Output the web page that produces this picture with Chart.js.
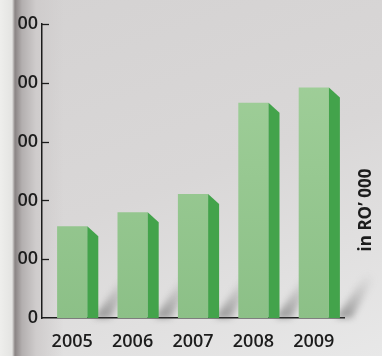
<!DOCTYPE html>
<html>
<head>
<meta charset="utf-8">
<script src="https://cdn.jsdelivr.net/npm/chart.js@4"></script>
<style>
    html, body { margin: 0; padding: 0; }
    body {
        width: 382px;
        height: 356px;
        overflow: hidden;
        background:
            linear-gradient(90deg, #eeeeec 0px, #e4e4e2 12px, #8a8484 15px, #b3afaf 22px, #cfcccc 36px, rgba(216,214,214,0) 64px),
            linear-gradient(160deg, #d4d2d2 0%, #d9d7d7 50%, #e8e8e8 100%);
    }
    #wrap { position: relative; width: 382px; height: 356px; }
</style>
</head>
<body>
<div id="wrap"><canvas id="salesChart" width="382" height="356"></canvas></div>
<script>
// Data
const years = ['2005', '2006', '2007', '2008', '2009'];
const values = [156, 180, 211, 366, 392];
const yTicks = [0, 100, 200, 300, 400, 500];
const unitLabel = 'in RO\u2019 000';

const INK = '#1c1c1c';
const FRONT_TOP = '#a3d19c';
const FRONT_BOTTOM = '#8cc087';
const SIDE = '#43a34b';
const DEPTH_X = 11;
const DEPTH_Y = 10;
const FONT = '"Open Sans", sans-serif';

// Soft floor shadows behind bars + side faces
const barsPlugin = {
    id: 'bars3d',
    beforeDatasetsDraw(chart) {
        const ctx = chart.ctx;
        const meta = chart.getDatasetMeta(0);
        const base = chart.scales.y.getPixelForValue(0);
        ctx.save();
        ctx.filter = 'blur(3px)';
        meta.data.forEach(bar => {
            const xr = bar.x + bar.width / 2 + DEPTH_X;
            const g = ctx.createLinearGradient(xr, base, xr + 30, base - 45);
            g.addColorStop(0, 'rgba(80,80,80,0.55)');
            g.addColorStop(1, 'rgba(140,140,140,0)');
            ctx.fillStyle = g;
            ctx.beginPath();
            ctx.moveTo(xr - 4, base);
            ctx.lineTo(xr + 30, base - 50);
            ctx.lineTo(xr + 40, base - 50);
            ctx.lineTo(xr + 12, base);
            ctx.closePath();
            ctx.fill();
        });
        ctx.restore();
    },
    afterDatasetsDraw(chart) {
        const ctx = chart.ctx;
        const meta = chart.getDatasetMeta(0);
        const base = chart.scales.y.getPixelForValue(0);
        ctx.save();
        meta.data.forEach(bar => {
            const xr = bar.x + bar.width / 2;
            ctx.fillStyle = SIDE;
            ctx.beginPath();
            ctx.moveTo(xr, bar.y);
            ctx.lineTo(xr + DEPTH_X, bar.y + DEPTH_Y);
            ctx.lineTo(xr + DEPTH_X, base);
            ctx.lineTo(xr, base);
            ctx.closePath();
            ctx.fill();
        });
        ctx.restore();
    }
};

// Inner tick marks and the unit text on the right
const axisPlugin = {
    id: 'axisExtras',
    afterDraw(chart) {
        const ctx = chart.ctx;
        const y = chart.scales.y;
        const left = chart.chartArea.left;
        ctx.save();
        ctx.strokeStyle = INK;
        ctx.lineWidth = 1.3;
        yTicks.slice(1).forEach(v => {
            const py = Math.round(y.getPixelForValue(v)) + 0.5;
            ctx.beginPath();
            ctx.moveTo(left, py);
            ctx.lineTo(left + 7, py);
            ctx.stroke();
        });
        ctx.translate(366, 210);
        ctx.rotate(-Math.PI / 2);
        ctx.fillStyle = INK;
        ctx.font = 'bold 17px ' + FONT;
        ctx.textAlign = 'center';
        ctx.textBaseline = 'middle';
        ctx.fillText(unitLabel, 0, 0);
        ctx.restore();
    }
};

const ctx = document.getElementById('salesChart').getContext('2d');

function frontGradient(context) {
    const area = context.chart.chartArea;
    if (!area) return FRONT_BOTTOM;
    const g = context.chart.ctx.createLinearGradient(0, area.top, 0, area.bottom);
    g.addColorStop(0, FRONT_TOP);
    g.addColorStop(1, FRONT_BOTTOM);
    return g;
}

new Chart(ctx, {
    type: 'bar',
    data: {
        labels: years,
        datasets: [{
            data: values,
            backgroundColor: frontGradient,
            borderWidth: 0,
            barPercentage: 0.5,
            categoryPercentage: 1.0
        }]
    },
    options: {
        responsive: false,
        animation: false,
        layout: { padding: { top: 24, right: 38, left: 0, bottom: 0 } },
        plugins: {
            legend: { display: false },
            tooltip: { enabled: false }
        },
        scales: {
            x: {
                grid: { display: false, drawTicks: false },
                border: { color: INK, width: 1.5 },
                ticks: {
                    color: INK,
                    padding: 13,
                    font: { family: FONT, size: 18, weight: '600' }
                },
                afterFit(scale) { scale.height = 38; }
            },
            y: {
                min: 0,
                max: 500,
                afterBuildTicks(scale) { scale.ticks = yTicks.map(v => ({ value: v })); },
                grid: { display: false, drawTicks: false },
                border: { color: INK, width: 1.5 },
                ticks: {
                    color: INK,
                    padding: 4,
                    font: { family: FONT, size: 18, weight: '600' },
                    callback: v => (v === 0 ? '0' : '00')
                },
                afterFit(scale) { scale.width = 42; }
            }
        }
    },
    plugins: [barsPlugin, axisPlugin]
});
</script>
</body>
</html>
